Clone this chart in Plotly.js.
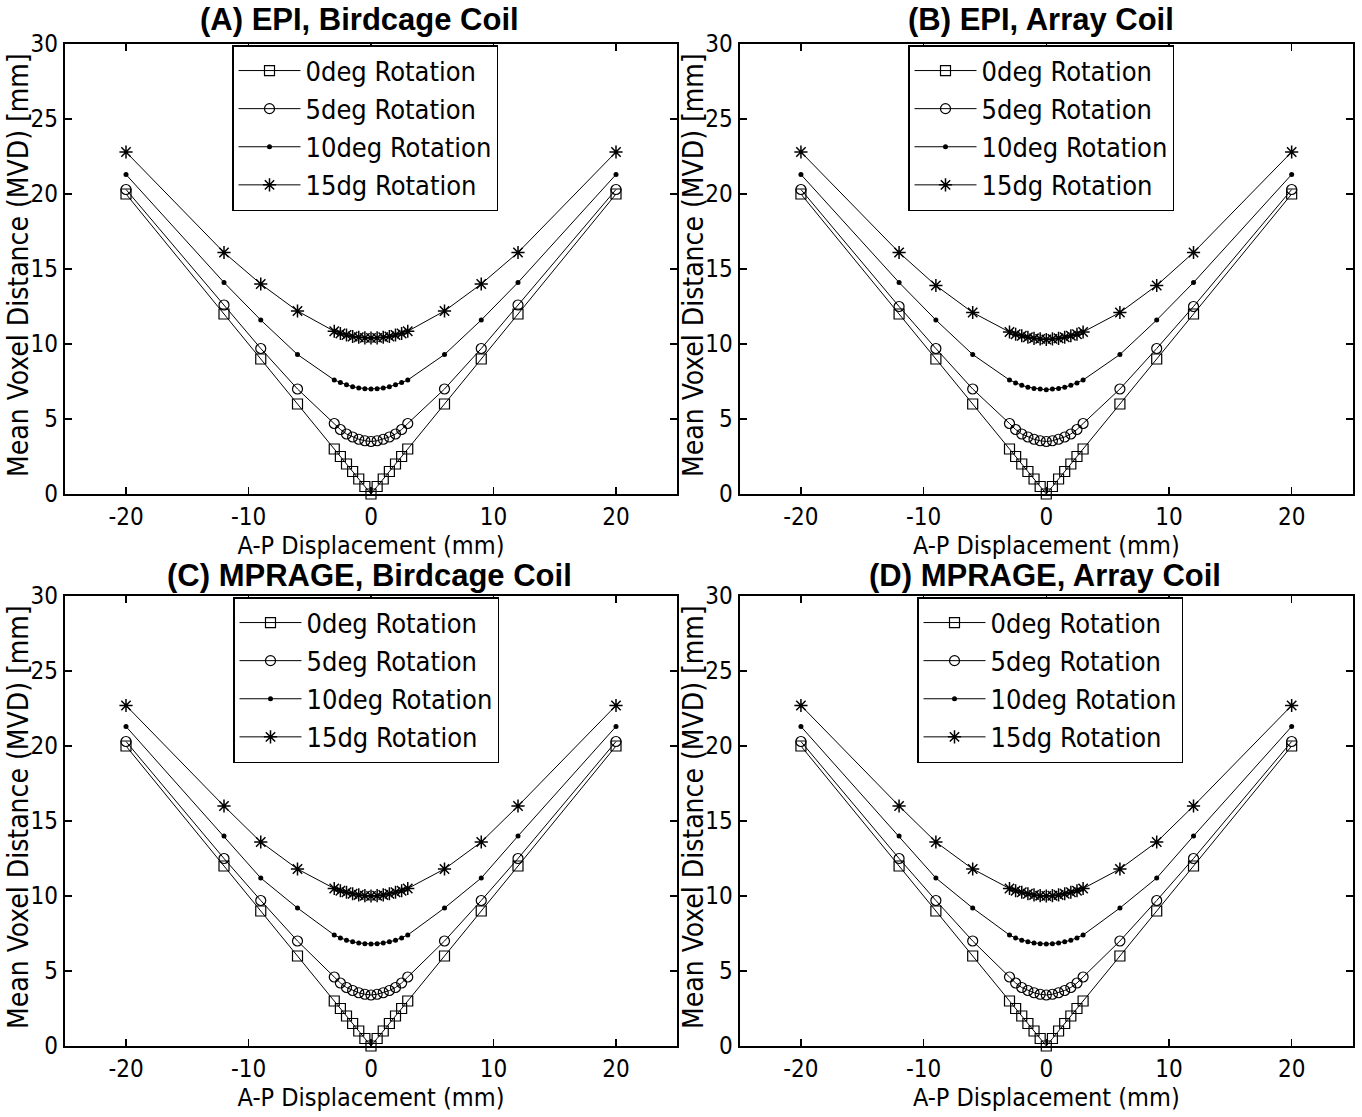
<!DOCTYPE html>
<html>
<head>
<meta charset="utf-8">
<script src="https://cdn.plot.ly/plotly-3.0.1.min.js"></script>
<style>html,body{margin:0;padding:0;background:#fff}#chart{width:1362px;height:1117px}</style>
</head>
<body>
<div id="chart"></div>
<script>
// A-P displacement (mm)
const xDisp = [-20,-12,-9,-6,-3,-2.5,-2,-1.5,-1,-0.5,0,0.5,1,1.5,2,2.5,3,6,9,12,20];
const seriesNames = ["0deg Rotation","5deg Rotation","10deg Rotation","15dg Rotation"];
const panelTitles = ["(A) EPI, Birdcage Coil","(B) EPI, Array Coil","(C) MPRAGE, Birdcage Coil","(D) MPRAGE, Array Coil"];
const xTitle = "A-P Displacement (mm)";
const yTitle = "Mean Voxel Distance (MVD) [mm]";
const xTicks = [-20,-10,0,10,20];
const yTicks = [0,5,10,15,20,25,30];

// (A) EPI, Birdcage Coil
const epiBird0  = [20,12,9,6,3,2.5,2,1.5,1,0.5,0,0.5,1,1.5,2,2.5,3,6,9,12,20];
const epiBird5  = [20.3,12.6,9.7,7.0,4.7,4.3,4.0,3.8,3.65,3.55,3.5,3.55,3.65,3.8,4.0,4.3,4.7,7.0,9.7,12.6,20.3];
const epiBird10 = [21.3,14.1,11.6,9.3,7.6,7.43,7.28,7.15,7.07,7.02,7.0,7.02,7.07,7.15,7.28,7.43,7.6,9.3,11.6,14.1,21.3];
const epiBird15 = [22.8,16.1,14.0,12.2,10.85,10.7,10.6,10.5,10.45,10.41,10.4,10.41,10.45,10.5,10.6,10.7,10.85,12.2,14.0,16.1,22.8];
// (B) EPI, Array Coil
const epiArr0  = [20,12,9,6,3,2.5,2,1.5,1,0.5,0,0.5,1,1.5,2,2.5,3,6,9,12,20];
const epiArr5  = [20.3,12.5,9.7,7.0,4.7,4.3,4.0,3.8,3.65,3.55,3.5,3.55,3.65,3.8,4.0,4.3,4.7,7.0,9.7,12.5,20.3];
const epiArr10 = [21.3,14.1,11.6,9.3,7.6,7.4,7.25,7.12,7.04,7.0,6.95,7.0,7.04,7.12,7.25,7.4,7.6,9.3,11.6,14.1,21.3];
const epiArr15 = [22.8,16.1,13.9,12.1,10.8,10.65,10.55,10.45,10.38,10.34,10.3,10.34,10.38,10.45,10.55,10.65,10.8,12.1,13.9,16.1,22.8];
// (C) MPRAGE, Birdcage Coil
const mpBird0  = [20,12,9,6,3,2.5,2,1.5,1,0.5,0,0.5,1,1.5,2,2.5,3,6,9,12,20];
const mpBird5  = [20.3,12.5,9.7,7.0,4.6,4.2,3.9,3.7,3.55,3.45,3.4,3.45,3.55,3.7,3.9,4.2,4.6,7.0,9.7,12.5,20.3];
const mpBird10 = [21.3,14.0,11.2,9.2,7.4,7.2,7.05,6.95,6.87,6.82,6.8,6.82,6.87,6.95,7.05,7.2,7.4,9.2,11.2,14.0,21.3];
const mpBird15 = [22.7,16.0,13.6,11.8,10.5,10.35,10.25,10.15,10.07,10.02,10.0,10.02,10.07,10.15,10.25,10.35,10.5,11.8,13.6,16.0,22.7];
// (D) MPRAGE, Array Coil
const mpArr0  = [20,12,9,6,3,2.5,2,1.5,1,0.5,0,0.5,1,1.5,2,2.5,3,6,9,12,20];
const mpArr5  = [20.3,12.5,9.7,7.0,4.6,4.2,3.9,3.7,3.55,3.45,3.4,3.45,3.55,3.7,3.9,4.2,4.6,7.0,9.7,12.5,20.3];
const mpArr10 = [21.3,14.0,11.2,9.2,7.4,7.2,7.05,6.95,6.87,6.82,6.8,6.82,6.87,6.95,7.05,7.2,7.4,9.2,11.2,14.0,21.3];
const mpArr15 = [22.7,16.0,13.6,11.8,10.5,10.35,10.25,10.15,10.07,10.02,10.0,10.02,10.07,10.15,10.25,10.35,10.5,11.8,13.6,16.0,22.7];

const panelData = [
  [epiBird0, epiBird5, epiBird10, epiBird15],
  [epiArr0, epiArr5, epiArr10, epiArr15],
  [mpBird0, mpBird5, mpBird10, mpBird15],
  [mpArr0, mpArr5, mpArr10, mpArr15]
];

const W = 1362, H = 1117;
const narrow = '"Liberation Sans Narrow", "DejaVu Sans Condensed", "Arial Narrow", sans-serif';
const markerStyles = [
  {symbol:'square-open', size:10, color:'#000', line:{width:1.2,color:'#000'}},
  {symbol:'circle-open', size:10, color:'#000', line:{width:1.2,color:'#000'}},
  {symbol:'circle', size:5, color:'#000', line:{width:0}},
  {symbol:'asterisk-open', size:11, color:'#000', line:{width:1.5,color:'#000'}}
];

// pixel boxes of each plot area [left, right, top, bottom]
const boxes = [
  [64.75, 677.25, 44, 494],
  [739.6, 1353, 44, 494],
  [64.75, 677.25, 596, 1046],
  [739.6, 1353, 596, 1046]
];
const legendPos = [[232,45],[908,45],[233,597],[917,597]];
const titleCenters = [359, 1041, 369, 1045];
const titleBottoms = [39, 39, 595, 595];
const yTitleX = [18, 693, 18, 693];

const traces = [];
const layout = {
  width: W, height: H,
  margin: {l:0, r:0, t:0, b:0},
  paper_bgcolor: '#fff', plot_bgcolor: '#fff',
  font: {family: narrow, size: 24, color: '#000'},
  showlegend: true,
  annotations: []
};

for (let p = 0; p < 4; p++) {
  const sfx = p === 0 ? '' : String(p + 1);
  const legName = p === 0 ? 'legend' : 'legend' + (p + 1);
  for (let s = 0; s < 4; s++) {
    traces.push({
      type: 'scatter', mode: 'lines+markers',
      x: xDisp, y: panelData[p][s],
      name: seriesNames[s],
      xaxis: 'x' + sfx, yaxis: 'y' + sfx,
      legend: legName,
      legendgroup: 'p' + p + 's' + s,
      line: {color: '#000', width: 1},
      marker: markerStyles[s],
      cliponaxis: false
    });
  }
  const b = boxes[p];
  const axCommon = {
    showgrid: false, zeroline: false, showline: true, mirror: 'ticks',
    linecolor: '#000', linewidth: 2, ticks: 'inside', ticklen: 7, tickwidth: 1.5, tickcolor: '#000',
    tickfont: {family: narrow, size: 24, color: '#000'}
  };
  layout['xaxis' + sfx] = Object.assign({}, axCommon, {
    domain: [b[0] / W, b[1] / W], range: [-25, 25],
    tickvals: xTicks, ticktext: xTicks.map(String),
    anchor: 'y' + sfx,
    title: {text: xTitle, font: {family: narrow, size: 25, color: '#000'}, standoff: 0}
  });
  layout['yaxis' + sfx] = Object.assign({}, axCommon, {
    domain: [1 - b[3] / H, 1 - b[2] / H], range: [0, 30],
    tickvals: yTicks, ticktext: yTicks.map(String),
    anchor: 'x' + sfx
  });
  layout[legName] = {
    x: legendPos[p][0] / W, y: 1 - legendPos[p][1] / H,
    xanchor: 'left', yanchor: 'top',
    bgcolor: '#fff', bordercolor: '#000', borderwidth: 1.5,
    font: {family: narrow, size: 27, color: '#000'},
    itemwidth: 62, tracegroupgap: 2, traceorder: 'normal'
  };
  layout.annotations.push({
    text: '<b>' + panelTitles[p] + '</b>',
    xref: 'paper', yref: 'paper',
    x: titleCenters[p] / W, y: 1 - titleBottoms[p] / H,
    xanchor: 'center', yanchor: 'bottom', showarrow: false,
    font: {family: 'Liberation Sans, Arial, sans-serif', size: 31, color: '#000'}
  });
  layout.annotations.push({
    text: yTitle, textangle: -90,
    xref: 'paper', yref: 'paper',
    x: yTitleX[p] / W, y: 1 - ((b[2] + b[3]) / 2 - 4) / H,
    xanchor: 'center', yanchor: 'middle', showarrow: false,
    font: {family: narrow, size: 28, color: '#000'}
  });
}

Plotly.newPlot('chart', traces, layout, {displayModeBar: false, staticPlot: true});
</script>
</body>
</html>
